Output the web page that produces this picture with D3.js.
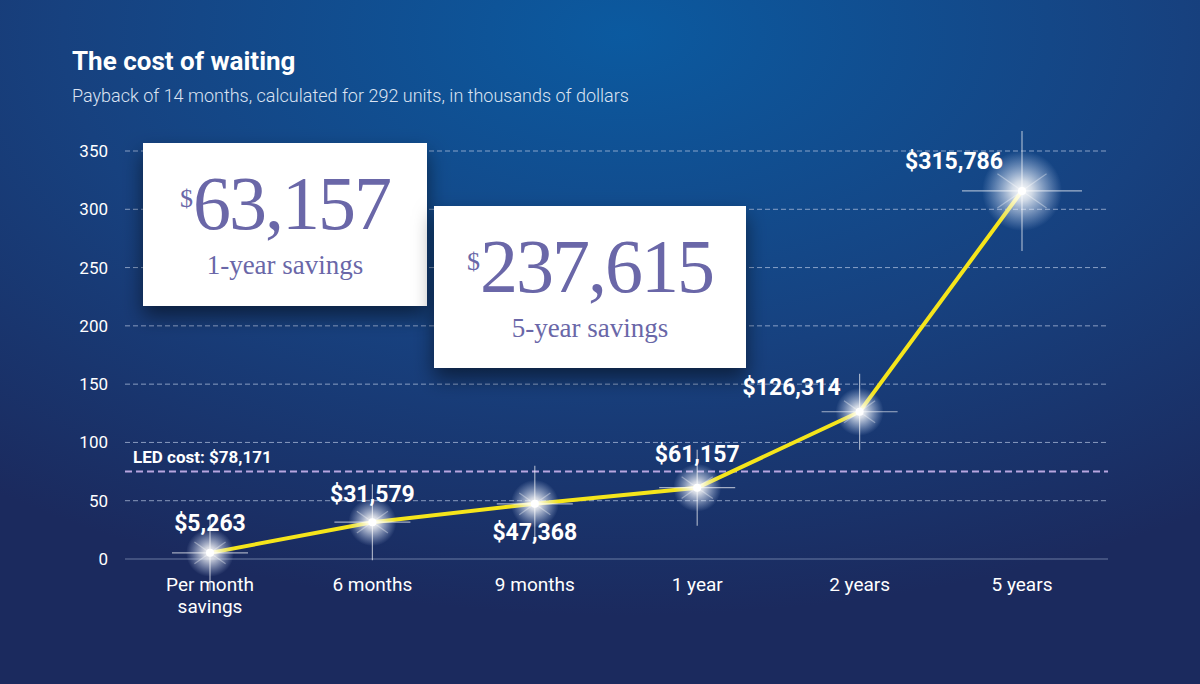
<!DOCTYPE html>
<html><head><meta charset="utf-8">
<script src="https://cdn.jsdelivr.net/npm/d3@7"></script>
<style>body{margin:0;background:#15306a}svg{display:block}</style>
</head><body><div id="container"></div>
<script>
// chart data
const categories = ["Per month|savings", "6 months", "9 months", "1 year", "2 years", "5 years"]
const values = [5.263, 31.579, 47.368, 61.157, 126.314, 315.786]
const valueLabels = ["$5,263", "$31,579", "$47,368", "$61,157", "$126,314", "$315,786"]
const yTicks = [0, 50, 100, 150, 200, 250, 300, 350]
const ledCost = 75
const ledLabel = "LED cost: $78,171"

const width = 1200, height = 684
const margin = { top: 151, bottom: 125, left: 125, right: 92 }
const labelFont = "'Liberation Sans Narrow', 'Roboto', sans-serif"

const svg = d3.select("#container").append("svg").attr("width", width).attr("height", height)
const defs = svg.append("defs")

const bg = defs.append("radialGradient").attr("id", "bg").attr("cx", "52%").attr("cy", "5%").attr("r", "85%")
bg.append("stop").attr("offset", "0%").attr("stop-color", "#0b5aa0")
bg.append("stop").attr("offset", "55%").attr("stop-color", "#17417f")
bg.append("stop").attr("offset", "100%").attr("stop-color", "#1b2a5e")
svg.append("rect").attr("width", width).attr("height", height).attr("fill", "url(#bg)")

const glow = defs.append("radialGradient").attr("id", "glow")
glow.append("stop").attr("offset", "0%").attr("stop-color", "#fff").attr("stop-opacity", 1)
glow.append("stop").attr("offset", "25%").attr("stop-color", "#fff").attr("stop-opacity", 0.8)
glow.append("stop").attr("offset", "100%").attr("stop-color", "#cfe0ff").attr("stop-opacity", 0)

const shadow = defs.append("filter").attr("id", "shadow").attr("x", "-20%").attr("y", "-20%").attr("width", "140%").attr("height", "150%")
shadow.append("feDropShadow").attr("dx", 0).attr("dy", 10).attr("stdDeviation", 10).attr("flood-color", "#000").attr("flood-opacity", 0.5)

const x = d3.scalePoint().domain(categories).range([210, 1022])
const y = d3.scaleLinear().domain([0, 350]).range([height - margin.bottom, margin.top])

// title
svg.append("text").attr("x", 72).attr("y", 70).text("The cost of waiting")
  .style("font", "bold 26px 'Roboto', sans-serif").attr("fill", "#fff")
svg.append("text").attr("x", 72).attr("y", 102).text("Payback of 14 months, calculated for 292 units, in thousands of dollars")
  .style("font", "300 18px 'Roboto', sans-serif").attr("fill", "#dbe3f2")

// grid
svg.selectAll(".grid").data(yTicks.filter(d => d > 0)).join("line").attr("class", "grid")
  .attr("x1", margin.left).attr("x2", width - margin.right)
  .attr("y1", d => y(d)).attr("y2", d => y(d))
  .attr("stroke", "#b9c8e3").attr("stroke-opacity", 0.7).attr("stroke-dasharray", "5,3")
svg.append("line").attr("x1", margin.left).attr("x2", width - margin.right)
  .attr("y1", y(0)).attr("y2", y(0)).attr("stroke", "#b9c8e3").attr("stroke-opacity", 0.5)

svg.selectAll(".ytick").data(yTicks).join("text").attr("class", "ytick")
  .attr("x", 108).attr("y", d => y(d) + 6).attr("text-anchor", "end").text(d => d)
  .style("font", `17px ${labelFont}`).attr("fill", "#fff")

// LED cost line
svg.append("line").attr("x1", margin.left).attr("x2", width - margin.right)
  .attr("y1", y(ledCost)).attr("y2", y(ledCost))
  .attr("stroke", "#b7a6e0").attr("stroke-width", 2).attr("stroke-dasharray", "7,4")
svg.append("text").attr("x", 133).attr("y", y(ledCost) - 9).text(ledLabel)
  .style("font", `bold 17px ${labelFont}`).attr("fill", "#fff")

// x labels
svg.selectAll(".xlab").data(categories).join("text").attr("class", "xlab")
  .attr("x", d => x(d)).attr("y", 591).attr("text-anchor", "middle")
  .style("font", `19px ${labelFont}`).attr("fill", "#fff")
  .each(function (d) {
    d3.select(this).selectAll("tspan").data(d.split("|")).join("tspan")
      .attr("x", x(d)).attr("dy", (_, i) => i ? 22 : 0).text(t => t)
  })

// boxes
function box(bx, by, bw, bh, big, small) {
  const g = svg.append("g")
  g.append("rect").attr("x", bx).attr("y", by).attr("width", bw).attr("height", bh).attr("fill", "#fff").attr("filter", "url(#shadow)")
  const t = g.append("text").attr("x", bx + bw / 2).attr("y", by + 86).attr("text-anchor", "middle")
    .attr("fill", "#6a67a8").style("font-family", "'Liberation Serif', 'DejaVu Serif', serif")
  t.append("tspan").text("$").style("font-size", "26px").attr("baseline-shift", "85%")
  t.append("tspan").text(big).style("font-size", "76px").style("letter-spacing", "-2px")
  g.append("text").attr("x", bx + bw / 2).attr("y", by + 131).attr("text-anchor", "middle")
    .attr("fill", "#6a67a8").style("font", "27px 'Liberation Serif', serif").text(small)
}
box(143, 143, 284, 163, "63,157", "1-year savings")
box(434, 206, 312, 162, "237,615", "5-year savings")

// line
const line = d3.line().x((d, i) => x(categories[i])).y(d => y(d))
svg.append("path").datum(values).attr("d", line).attr("fill", "none").attr("stroke", "#f5e51b").attr("stroke-width", 4)

// glowing points
const pts = svg.selectAll(".pt").data(values).join("g").attr("class", "pt")
  .attr("transform", (d, i) => `translate(${x(categories[i])},${y(d)})`)
pts.append("circle").attr("r", (d, i) => i === 5 ? 40 : 24).attr("fill", "url(#glow)")
pts.each(function (d, i) {
  const len = i === 5 ? 60 : 38
  const g = d3.select(this)
  ;[0, 90, 35, 145].forEach((a, k) => {
    g.append("line").attr("x1", -len * (k < 2 ? 1 : 0.5)).attr("x2", len * (k < 2 ? 1 : 0.5))
      .attr("transform", `rotate(${a})`).attr("stroke", "#fff").attr("stroke-opacity", k < 2 ? 0.6 : 0.35).attr("stroke-width", 1.2)
  })
})
pts.append("circle").attr("r", 4).attr("fill", "#fff")

// value labels
const lblOffset = [[0, -22], [0, -20], [0, 36], [0, -26], [-68, -17], [-68, -22]]
svg.selectAll(".vlab").data(values).join("text").attr("class", "vlab")
  .attr("x", (d, i) => x(categories[i]) + lblOffset[i][0])
  .attr("y", (d, i) => y(d) + lblOffset[i][1])
  .attr("text-anchor", "middle").text((d, i) => valueLabels[i])
  .style("font", `bold 23px ${labelFont}`).attr("fill", "#fff")
</script></body></html>
